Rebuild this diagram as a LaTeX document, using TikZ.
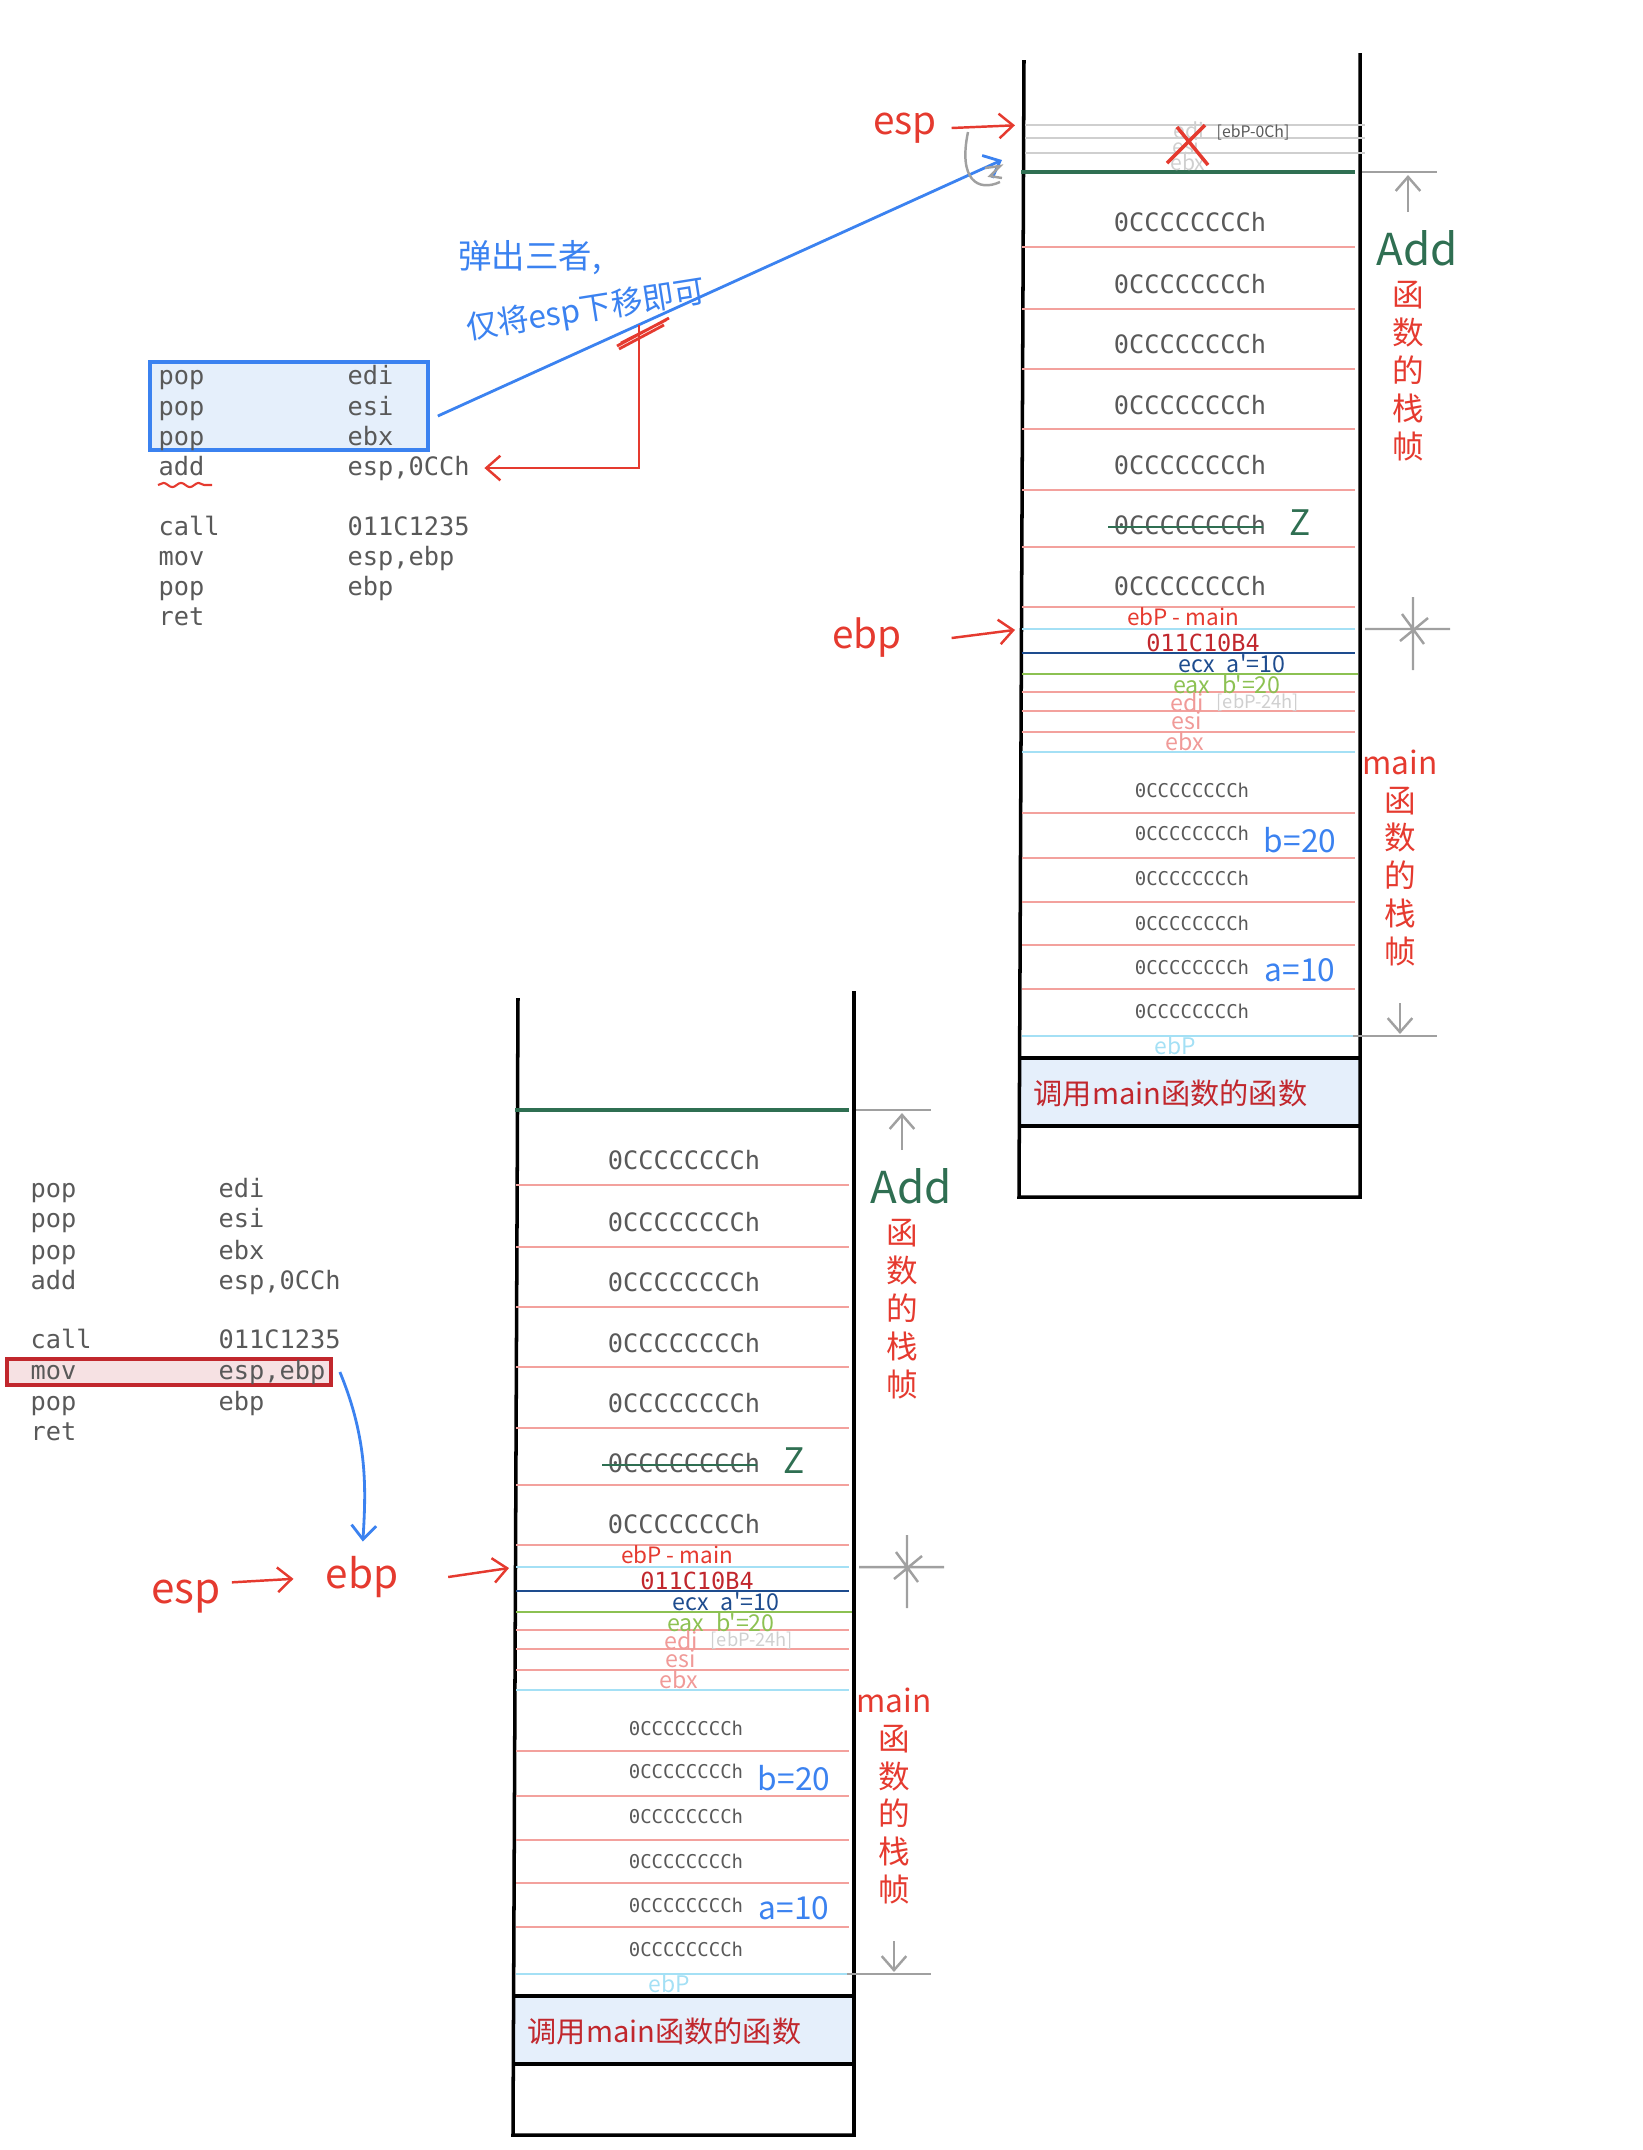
\documentclass[tikz,border=0pt]{standalone}
\usepackage{fontspec}
\usepackage{xcolor}
\usepackage{tikz}
\usetikzlibrary{positioning,arrows.meta,calc,decorations.pathmorphing}

\newfontfamily\monofont{DejaVu Sans Mono}
\newfontfamily\cjk{Noto Sans CJK SC}

\definecolor{codegray}{HTML}{595959}
\definecolor{slotred}{HTML}{F3A19D}
\definecolor{ebpblue}{HTML}{A4E0F5}
\definecolor{ecxblue}{HTML}{1E4C8E}
\definecolor{eaxgreen}{HTML}{8CC152}
\definecolor{addgreen}{HTML}{2F6F52}
\definecolor{inkred}{HTML}{E53A2F}
\definecolor{darkred}{HTML}{C1272D}
\definecolor{inkblue}{HTML}{3B82F0}
\definecolor{guidegray}{HTML}{A0A0A0}
\definecolor{oldgray}{HTML}{CFCFCF}
\definecolor{callerfill}{HTML}{E5EFFB}
\definecolor{movfill}{HTML}{F6E1E3}
\definecolor{regpink}{HTML}{F09A98}

\tikzset{
  code/.style={anchor=base west, inner sep=0pt, text=codegray,
               font=\monofont\fontsize{7.2}{8}\selectfont},
  cell/.style={inner sep=0pt, text=codegray, font=\monofont\fontsize{7.2}{8}\selectfont},
  smallcell/.style={inner sep=0pt, text=codegray, font=\monofont\fontsize{5.4}{6}\selectfont},
  hand/.style={inner sep=0pt, font=\cjk\fontsize{#1}{#1}\selectfont},
  hand/.default=9,
  vlabel/.style={inner sep=0pt, align=center, text=inkred,
                 font=\cjk\fontsize{9}{10.8}\selectfont},
  wall/.style={line width=1pt, black},
  slot/.style={line width=0.7pt, slotred},
  ebpslot/.style={line width=0.7pt, ebpblue},
  guide/.style={line width=0.7pt, guidegray},
  redarr/.style={-{Straight Barb[length=4pt,width=7pt]}, line width=0.7pt, inkred},
  bluearr/.style={-{Straight Barb[length=4pt,width=7pt]}, line width=0.8pt, inkblue},
  guidearr/.style={-{Straight Barb[length=4pt,width=7pt]}, guide},
  popbox/.style={draw=inkblue, line width=1pt, fill=callerfill, inner sep=0pt,
                 minimum width=2.78cm, minimum height=0.88cm},
  movbox/.style={draw=darkred, line width=1pt, fill=movfill, inner sep=0pt,
                 minimum width=3.24cm, minimum height=0.26cm},
}

% one stack picture: Add frame on top of main frame
\newcommand{\stackframe}[1]{%
  % caller frame and walls
  \fill[callerfill] (1020,1058) rectangle (1360,1126);
  \draw[wall] (1020,1058) -- (1360,1058) (1020,1126) -- (1360,1126);
  \draw[wall] (1024,60) -- (1019,1197) -- (1360,1197) -- (1360,53);
  \node[hand=8.3, text=darkred, anchor=west] (#1-caller) at (1033,1093) {调用main函数的函数};
  % slot lines
  \draw[line width=0.9pt, addgreen] (1021,172) -- (1355,172);
  \foreach \y in {247,309,369,429,490,547,607,692,711,732,813,858,902,945,989}
    \draw[slot] (1022,\y) -- (1355,\y);
  \foreach \y in {629,752,1036}
    \draw[ebpslot] (1022,\y) -- (1355,\y);
  \draw[line width=0.8pt, ecxblue] (1022,653) -- (1355,653);
  \draw[line width=0.8pt, eaxgreen] (1022,674) -- (1358,674);
  % Add frame
  \foreach \y in {222,284,344,405,465,525,586}
    \node[cell] (#1-add\y) at (1190,\y) {0CCCCCCCCh};
  \draw[line width=0.7pt, addgreen] (1108,527) -- (1263,527);
  \node[hand=10, text=addgreen] (#1-z) at (1300,523) {Z};
  % main frame
  \node[hand=6.4, text=inkred] (#1-ebpmain) at (1183,617) {ebP - main};
  \node[inner sep=0pt, text=darkred, font=\monofont\fontsize{6.7}{7}\selectfont]
       (#1-ret) at (1203,643) {011C10B4};
  \node[hand=6.6, text=ecxblue] (#1-ecx) at (1232,664) {ecx\enspace a'=10};
  \node[hand=6.6, text=eaxgreen] (#1-eax) at (1227,684) {eax\enspace b'=20};
  \node[hand=6.6, text=regpink] (#1-edi) at (1187,702) {edi};
  \node[hand=5.2, text=oldgray, anchor=west] (#1-ediaddr) at (1216,703) {[ebP-24h]};
  \node[hand=6.6, text=regpink] (#1-esi) at (1187,721) {esi};
  \node[hand=6.6, text=regpink] (#1-ebx) at (1185,741) {ebx};
  \foreach \y in {790,833,878,923,967,1011}
    \node[smallcell] (#1-main\y) at (1192,\y) {0CCCCCCCCh};
  \node[hand=9, text=inkblue] (#1-b) at (1300,840) {b=20};
  \node[hand=9, text=inkblue] (#1-a) at (1300,970) {a=10};
  \node[hand=6.5, text=ebpblue] (#1-oldebp) at (1175,1046) {ebP};
  % frame labels and guides
  \node[hand=12.5, text=addgreen] (#1-addname) at (1417,248) {Add};
  \node[vlabel] (#1-addframe) at (1408,371) {函\\数\\的\\栈\\帧};
  \node[vlabel] (#1-mainframe) at (1400,858) {main\\函\\数\\的\\栈\\帧};
  \draw[guide] (1362,172) -- (1437,172);
  \draw[guidearr] (1408,212) -- (1408,175);
  \draw[guide] (1365,629) -- (1450,629) (1413,597) -- (1413,670)
               (1402,614) -- (1424,644) (1400,641) -- (1428,618);
  \draw[guide] (1353,1036) -- (1437,1036);
  \draw[guidearr] (1400,1003) -- (1400,1034);
  \coordinate (#1-ebp) at (1022,629);
  \coordinate (#1-top) at (1022,125);
}

\begin{document}
\begin{tikzpicture}[x=0.01cm, y=-0.01cm]
  \useasboundingbox (0,0) rectangle (1643,2150);

  % Upper stack: after the three pops
  \stackframe{t}
  \foreach \y in {125,138,153}
    \draw[line width=0.7pt, oldgray] (1025,\y) -- (1365,\y);
  \node[hand=6, text=oldgray] (oldedi) at (1189,130) {edi};
  \node[hand=6, text=oldgray] (oldesi) at (1186,146) {esi};
  \node[hand=6, text=oldgray] (oldebx) at (1188,162) {ebx};
  \node[hand=4.5, text=codegray, anchor=west] (oldaddr) at (1216,133) {[ebP-0Ch]};
  \draw[line width=1pt, inkred] (1177,127) -- (1208,165) (1205,125) -- (1167,163);

  % Upper listing
  \node[popbox] (popbox) at (289,406) {};
  \foreach \i/\y/\mnem/\opnd in {1/384/pop/edi, 2/415/pop/esi, 3/445/pop/ebx,
      4/475/add/{esp,0CCh}, 5/535/call/011C1235, 6/565/mov/{esp,ebp},
      7/595/pop/ebp, 8/625/ret/{}}
  {
    \node[code] (op\i) at (158,\y) {\mnem};
    \node[code] (arg\i) at (347,\y) {\opnd};
  }
  \draw[inkred, line width=0.6pt, decorate,
        decoration={snake, amplitude=0.6pt, segment length=5pt}] (158,485) -- (212,485);

  % pops only move esp
  \coordinate (popout) at ([shift={(8,10)}]popbox.east);
  \coordinate (t-espin) at (1002,160);
  \draw[bluearr] (popout) -- (t-espin);
  \coordinate (cut) at ($(popout)!0.357!(t-espin)$);
  \draw[redarr] (cut) |- ([xshift=4pt]arg4.east);
  \draw[inkred, line width=0.8pt] (617,346) -- (669,318) (619,349) -- (664,325)
                                  (621,343) -- (666,320);
  \node[hand=9.5, text=inkblue] (note1) at (530,258) {弹出三者,};
  \node[hand=9, text=inkblue, rotate=9] (note2) at (586,311) {仅将esp下移即可};

  \node[hand=11, text=inkred] (espT) at (905,128) {esp};
  \draw[redarr, shorten >=2pt] ([xshift=4pt]espT.east) -- (t-top);
  \draw[guide] (968,132) .. controls (958,180) and (978,192) .. (1000,182);
  \draw[guide] (985,168) -- (1000,166) -- (990,176) -- (1002,178);
  \node[hand=11, text=inkred] (ebpT) at (867,638) {ebp};
  \draw[redarr, shorten >=2pt] ([xshift=14pt]ebpT.east) -- (t-ebp);

  % Lower stack: mov esp,ebp
  \begin{scope}[shift={(-506,938)}]
    \stackframe{b}
  \end{scope}

  % Lower listing
  \node[movbox] (movbox) at (169,1372) {};
  \foreach \i/\y/\mnem/\opnd in {1/1197/pop/edi, 2/1227/pop/esi, 3/1259/pop/ebx,
      4/1289/add/{esp,0CCh}, 5/1348/call/011C1235, 6/1379/mov/{esp,ebp},
      7/1410/pop/ebp, 8/1440/ret/{}}
  {
    \node[code] (bop\i) at (30,\y) {\mnem};
    \node[code] (barg\i) at (218,\y) {\opnd};
  }

  \node[hand=12, text=inkred] (espB) at (186,1597) {esp};
  \node[hand=11.5, text=inkred] (ebpB) at (362,1577) {ebp};
  \draw[bluearr, shorten >=4pt] ([xshift=2pt]movbox.east)
        .. controls (368,1440) and (366,1490) .. (ebpB.north);
  \draw[redarr, shorten <=3pt, shorten >=9pt] ([yshift=4pt]espB.east) -- (ebpB.west);
  \draw[redarr, shorten >=2pt] ([xshift=14pt]ebpB.east) -- (b-ebp);
\end{tikzpicture}
\end{document}
